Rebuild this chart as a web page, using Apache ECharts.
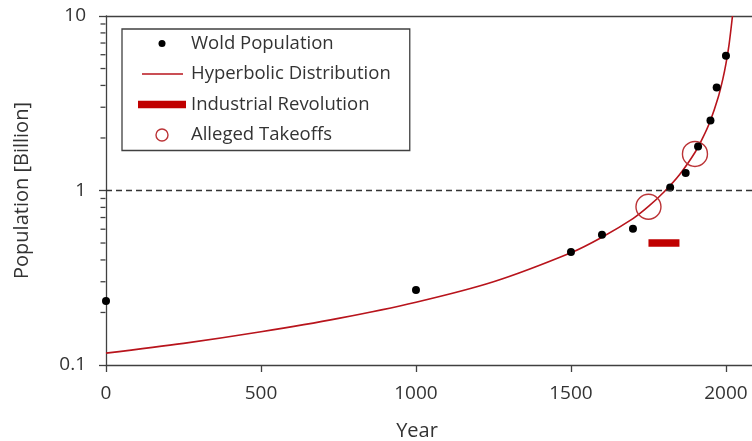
<!DOCTYPE html>
<html>
<head>
<meta charset="utf-8">
<script src="https://cdn.jsdelivr.net/npm/echarts@6/dist/echarts.min.js"></script>
<style>
  html, body { margin: 0; padding: 0; background: #fff; }
  #chart { width: 752px; height: 441px; }
</style>
</head>
<body>
<div id="chart"></div>
<script>
// world population, billions
const popYears = [0, 1000, 1500, 1600, 1700, 1820, 1870, 1910, 1950, 1970, 2000];
const popValues = [0.233, 0.269, 0.444, 0.558, 0.604, 1.04, 1.26, 1.79, 2.52, 3.89, 5.91];

// hyperbolic fit
const curveYears = [0, 250, 500, 750, 1000, 1250, 1500, 1600, 1700, 1750, 1800, 1850, 1900, 1925, 1950, 1975, 1990, 2000, 2010, 2021];
const curveValues = [0.117, 0.133, 0.155, 0.185, 0.229, 0.300, 0.44, 0.54, 0.69, 0.81, 0.98, 1.23, 1.65, 2.0, 2.52, 3.42, 4.36, 5.33, 6.86, 10];

const industrialYears = [1750, 1850];
const industrialValue = 0.5;

const takeoffYears = [1750, 1900];
const takeoffValues = [0.807, 1.62];

const xTicks = [0, 500, 1000, 1500, 2000];
const yTicks = [0.1, 1, 10];
const yMinorTicks = [0.2, 0.3, 0.4, 0.5, 0.6, 0.7, 0.8, 0.9, 2, 3, 4, 5, 6, 7, 8, 9];

const axisColor = "#404040";
const textColor = "#333";
const font = "'Open Sans', sans-serif";
const xMax = 2084; // the plot runs off the right edge

const chart = echarts.init(document.getElementById("chart"), null, { renderer: "canvas" });

const zip = (xs, ys) => xs.map((x, i) => [x, ys[i]]);

chart.setOption({
  animation: false,
  textStyle: { fontFamily: font },
  grid: { left: 106, right: 0, top: 16, bottom: 76, outerBoundsMode: "none", containLabel: false },
  legend: {
    orient: "vertical",
    left: 122,
    top: 29,
    padding: [5, 19, 6, 16],
    itemGap: 11.5,
    itemWidth: 48,
    itemHeight: 12,
    borderColor: axisColor,
    borderWidth: 1.3,
    textStyle: { fontSize: 18.5, color: textColor, fontFamily: font },
    data: [
      {
        name: "Wold Population",
        icon: "path://M0,0 M48,12 M20.5,6 A3.5,3.5 0 1,1 27.5,6 A3.5,3.5 0 1,1 20.5,6 Z",
        itemStyle: { borderWidth: 0, opacity: 1 },
      },
      {
        name: "Hyperbolic Distribution",
        icon: "path://M0,0 M48,12 M4,5.2 L45,5.2 L45,6.8 L4,6.8 Z",
        itemStyle: { borderWidth: 0 },
      },
      {
        name: "Industrial Revolution",
        icon: "path://M0,0 M48,12 M0,2.3 L48,2.3 L48,9.7 L0,9.7 Z",
        itemStyle: { borderWidth: 0 },
      },
      {
        name: "Alleged Takeoffs",
        itemStyle: { borderWidth: 1.4 },
      },
    ],
  },
  xAxis: [
    {
      type: "value",
      min: xTicks[0],
      max: xMax,
      interval: xTicks[1] - xTicks[0],
      name: "Year",
      nameLocation: "middle",
      nameGap: 56,
      nameTextStyle: { fontSize: 20, color: textColor, padding: [0, 24, 0, 0] },
      axisLine: { lineStyle: { color: axisColor, width: 1.3 } },
      axisTick: { length: 7, lineStyle: { color: axisColor, width: 1.3 } },
      axisLabel: {
        fontSize: 19,
        color: textColor,
        margin: 19,
        showMaxLabel: false,
        formatter: (v) => String(v),
      },
      splitLine: { show: false },
    },
    {
      // top frame line
      type: "value",
      position: "top",
      min: xTicks[0],
      max: xMax,
      axisLine: { show: true, lineStyle: { color: axisColor, width: 1.3 } },
      axisTick: { show: false },
      axisLabel: { show: false },
      splitLine: { show: false },
    },
  ],
  yAxis: {
    type: "log",
    logBase: 10,
    min: yTicks[0],
    max: yTicks[yTicks.length - 1],
    name: "Population [Billion]",
    nameLocation: "middle",
    nameGap: 74,
    nameTextStyle: { fontSize: 20, color: textColor },
    axisLine: { show: true, lineStyle: { color: axisColor, width: 1.3 } },
    axisTick: { show: true, length: 7, lineStyle: { color: axisColor, width: 1.3 } },
    axisLabel: {
      fontSize: 19,
      color: textColor,
      margin: 20,
      formatter: (v) => String(Math.round(v * 10) / 10),
    },
    splitLine: { show: false },
  },
  series: [
    {
      // minor log ticks on the y axis
      name: "minor",
      type: "scatter",
      data: yMinorTicks.map((v) => [0, v]),
      symbol: "rect",
      symbolSize: [5, 1.3],
      symbolOffset: [-3, 0],
      itemStyle: { color: axisColor, opacity: 1 },
      clip: false,
      silent: true,
      z: 1,
    },
    {
      name: "Hyperbolic Distribution",
      type: "line",
      data: zip(curveYears, curveValues),
      smooth: 0.3,
      symbol: "none",
      lineStyle: { color: "#b8141c", width: 1.6 },
      itemStyle: { color: "#b8141c" },
      z: 2,
    },
    {
      name: "Industrial Revolution",
      type: "line",
      data: industrialYears.map((y) => [y, industrialValue]),
      symbol: "none",
      lineStyle: { color: "#c00000", width: 7.5, cap: "butt" },
      itemStyle: { color: "#c00000" },
      z: 2,
    },
    {
      name: "Alleged Takeoffs",
      type: "scatter",
      data: zip(takeoffYears, takeoffValues),
      symbol: "circle",
      symbolSize: 25,
      itemStyle: { color: "rgba(0,0,0,0)", borderColor: "#bb3336", borderWidth: 1.4, opacity: 1 },
      z: 3,
    },
    {
      name: "Wold Population",
      type: "scatter",
      data: zip(popYears, popValues),
      symbol: "circle",
      symbolSize: 8,
      itemStyle: { color: "#000", opacity: 1 },
      clip: false,
      z: 4,
      markLine: {
        silent: true,
        symbol: "none",
        label: { show: false },
        lineStyle: { color: "#333", type: [6, 4], width: 1.4 },
        data: [{ yAxis: 1 }],
      },
    },
  ],
});
</script>
</body>
</html>
